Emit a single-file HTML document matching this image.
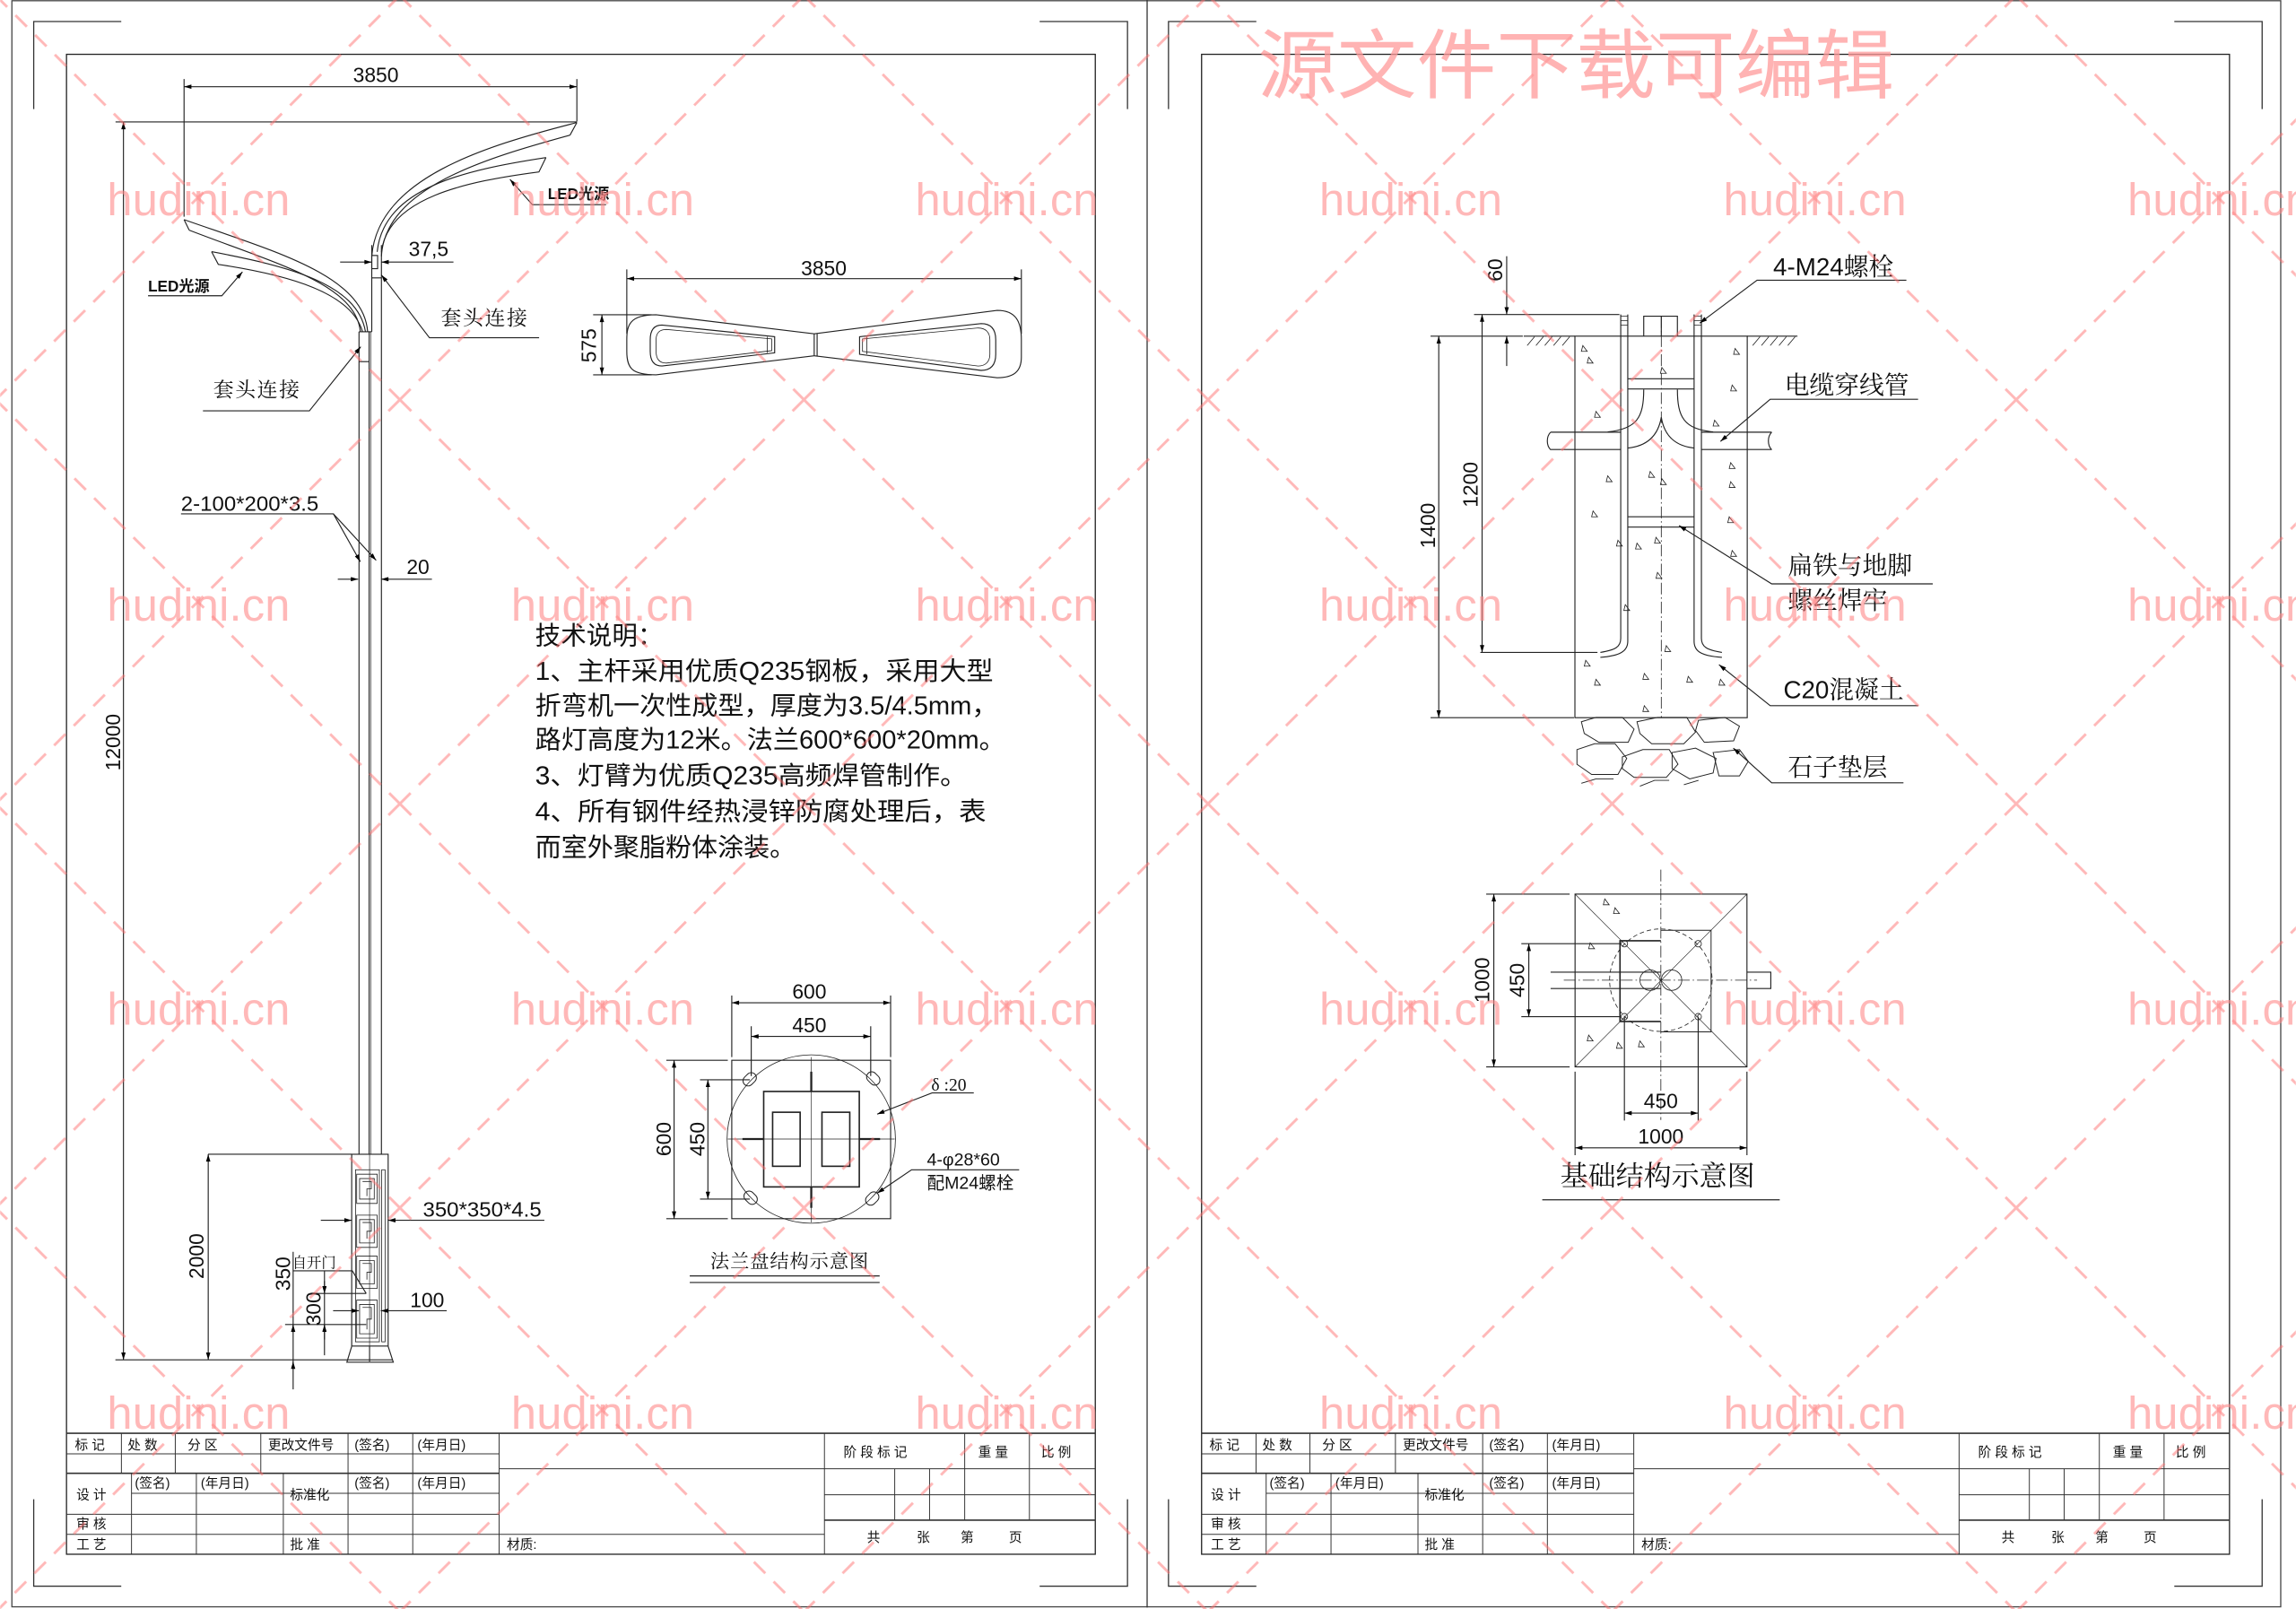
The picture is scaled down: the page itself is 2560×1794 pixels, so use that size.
<!DOCTYPE html>
<html><head><meta charset="utf-8"><style>
html,body{margin:0;padding:0;background:#fff;}
svg{display:block;}
text{font-family:"Liberation Sans","Noto Sans CJK SC",sans-serif;fill:#111;}
.s{font-family:"Liberation Serif","Noto Serif CJK SC","Noto Sans CJK SC",serif;}
</style></head><body>
<svg width="2560" height="1794" viewBox="0 0 1568 1099" xmlns="http://www.w3.org/2000/svg">
<defs>
<marker id="a" viewBox="0 0 10 6" refX="10" refY="3" markerWidth="7" markerHeight="3" orient="auto-start-reverse" markerUnits="userSpaceOnUse"><path d="M0,0L10,3L0,6z" fill="#000"/></marker>
<pattern id="wm" patternUnits="userSpaceOnUse" x="-3" y="-3" width="276" height="276">
<path d="M0,0L276,276M276,0L0,276" stroke="#ff7070" stroke-width="1.8" stroke-dasharray="11,8" fill="none"/>
</pattern>
</defs>
<rect width="1568" height="1099" fill="#fff"/>
<g fill="none" stroke="#333" stroke-width="0.8">
<rect x="8" y="0.5" width="1549.7" height="1097" stroke="#444"/>
<line x1="783.4" y1="0" x2="783.4" y2="1098"/>
<path d="M22.9,74.5V14.7H82.7M770,74.5V14.7H710M22.9,1024V1083.4H82.7M770,1024V1083.4H710"/>
<path d="M798,74.5V14.7H858M1545,74.5V14.7H1485M798,1024V1083.4H858M1545,1024V1083.4H1485"/>
<rect x="45.3" y="37.1" width="702.7" height="1024.5" stroke="#222"/>
<rect x="820.6" y="37.1" width="702.1" height="1024.5" stroke="#222"/>
</g>

<g id="tb" fill="none" stroke="#333" stroke-width="0.6">
<line x1="45.3" y1="979" x2="748" y2="979" stroke-width="1"/>
<line x1="45.3" y1="993" x2="340.8" y2="993"/>
<line x1="45.3" y1="1006.3" x2="340.8" y2="1006.3" stroke-width="1"/>
<line x1="89.7" y1="1020" x2="340.8" y2="1020"/>
<line x1="45.3" y1="1034.3" x2="340.8" y2="1034.3"/>
<line x1="45.3" y1="1048" x2="563" y2="1048"/>
<line x1="340.8" y1="1003.2" x2="563" y2="1003.2"/>
<line x1="563" y1="1003.2" x2="748" y2="1003.2"/>
<line x1="563" y1="1021" x2="748" y2="1021"/>
<line x1="563" y1="1038.3" x2="748" y2="1038.3" stroke-width="1"/>
<path d="M82.8,979V1006.3M119.6,979V1006.3M178,979V1006.3M237.6,979V1061.4M281.8,979V1061.4M340.8,979V1061.4M563,979V1061.4"/>
<path d="M89.7,1006.3V1061.4M134,1006.3V1061.4M193.4,1006.3V1061.4"/>
<path d="M658.8,979V1038.3M703,979V1038.3M611,1003.2V1038.3M634.8,1003.2V1038.3"/>
</g>
<g font-size="9" fill="#333" id="tbt">
<text x="51" y="990">标 记</text><text x="87" y="990">处 数</text><text x="128" y="990">分 区</text><text x="183" y="990">更改文件号</text>
<text x="242" y="990">(签名)</text><text x="285" y="990">(年月日)</text>
<text x="52" y="1024">设 计</text><text x="92" y="1016">(签名)</text><text x="137" y="1016">(年月日)</text>
<text x="198" y="1024">标准化</text><text x="242" y="1016">(签名)</text><text x="285" y="1016">(年月日)</text>
<text x="52" y="1044">审 核</text><text x="52" y="1058">工 艺</text><text x="198" y="1058">批 准</text>
<text x="346" y="1058">材质:</text>
<text x="576" y="995">阶 段 标 记</text><text x="668" y="995">重 量</text><text x="711" y="995">比 例</text>
<text x="592" y="1053">共</text><text x="626" y="1053">张</text><text x="656" y="1053">第</text><text x="689" y="1053">页</text>
</g>
<use href="#tb" x="775"/>
<use href="#tbt" x="775"/>

<g fill="none" stroke="#222" stroke-width="0.7">
<line x1="125.6" y1="59.2" x2="393.9" y2="59.2" marker-start="url(#a)" marker-end="url(#a)"/>
<line x1="125.6" y1="54" x2="125.6" y2="148"/>
<line x1="393.9" y1="54" x2="393.9" y2="83"/>
<line x1="78.8" y1="83.3" x2="393.9" y2="83.3"/>
<line x1="84.2" y1="83.3" x2="84.2" y2="928.8" marker-start="url(#a)" marker-end="url(#a)"/>
<line x1="78.7" y1="928.8" x2="268" y2="928.8"/>
<path d="M393.9,83.7C330,100 258,122 253.8,175"/>
<path d="M389.2,92.3C332,108 263,128 260.4,175"/>
<path d="M393.9,83.7L389.2,92.3"/>
<path d="M372.8,107.6L368,117.4C318,124 265,135 260.4,172"/>
<path d="M372.8,107.6C318,116 262,128 257.5,172"/>
<path d="M125.6,150C188,172 248,188 251,226.6"/>
<path d="M129.1,157.2C188,180 243,194 246,226.6"/>
<path d="M125.6,150L129.1,157.2"/>
<path d="M144.4,171.9L149,180.6C198,188 240,200 247.5,226.6"/>
<path d="M144.4,171.9C198,182 244,194 249.5,226.6"/>
<line x1="260.4" y1="167.4" x2="260.4" y2="788.4"/>
<line x1="253.8" y1="167.4" x2="253.8" y2="226.6"/>
<line x1="245.1" y1="226.6" x2="245.1" y2="788.4"/>
<line x1="252" y1="226.6" x2="252" y2="788.4"/>
<line x1="253.2" y1="226.6" x2="253.2" y2="788.4" stroke-width="0.4"/>
<rect x="253.8" y="174.5" width="4" height="9"/>
<line x1="253.8" y1="189.8" x2="260.4" y2="189.8"/>
<line x1="245.1" y1="226.6" x2="253.8" y2="226.6"/>
<line x1="245.1" y1="247" x2="252" y2="247"/>
<line x1="232.2" y1="179" x2="253.8" y2="179" marker-end="url(#a)"/>
<line x1="309.6" y1="179" x2="260.4" y2="179" marker-end="url(#a)"/>
<path d="M413.8,139.8H363.5L348.2,122.5" marker-end="url(#a)"/>
<path d="M101,202H151.4L165.5,185.7" marker-end="url(#a)"/>
<path d="M368.1,230.7H293.2L260.4,187.8" marker-end="url(#a)"/>
<path d="M138.5,280.6H211.2L246.3,236.8" marker-end="url(#a)"/>
<path d="M123.5,351H227.6L246,383.7" marker-end="url(#a)"/>
<path d="M227.6,351L256.8,382.7" marker-end="url(#a)"/>
<line x1="230.6" y1="395.6" x2="244.5" y2="395.6" marker-end="url(#a)"/>
<line x1="294.9" y1="395.6" x2="260.2" y2="395.6" marker-end="url(#a)"/>
<rect x="240.1" y="788.4" width="24.9" height="131"/>
<line x1="142" y1="788.4" x2="240.1" y2="788.4"/>
<line x1="252.3" y1="788.4" x2="252.3" y2="928.8" stroke-width="0.4"/>
<rect x="242.7" y="799" width="16.3" height="117.5" stroke-width="0.5"/>
<rect x="260.6" y="799" width="2.3" height="117.5" stroke-width="0.5"/>
<path d="M243.5,802h14v20h-14z M245.5,805h10v14h-10z M247.5,807h6v5h-3v5" stroke-width="0.5"/>
<path d="M243.5,830h14v22h-14z M245.5,833h10v16h-10z M247.5,835h6v6h-3v5" stroke-width="0.5"/>
<path d="M243.5,858h14v22h-14z M245.5,861h10v16h-10z M247.5,863h6v6h-3v5" stroke-width="0.5"/>
<path d="M243.5,888h14v26h-14z M245.5,891h10v20h-10z M247.5,893h6v8h-3v7" stroke-width="0.5"/>
<path d="M240.1,919.6L236.8,930.4H268.5L265,919.6"/>
<line x1="252.3" y1="919.6" x2="252.3" y2="930"/>
<line x1="142.1" y1="788.4" x2="142.1" y2="928.8" marker-start="url(#a)" marker-end="url(#a)"/>
<line x1="219" y1="833.5" x2="240.1" y2="833.5" marker-end="url(#a)"/>
<line x1="371.7" y1="833.5" x2="265" y2="833.5" marker-end="url(#a)"/>
<path d="M200.1,855V949M200.1,868H240.5L250,883.5" />
<line x1="200.1" y1="910" x2="200.1" y2="904.7" marker-end="url(#a)"/>
<line x1="200.1" y1="935" x2="200.1" y2="930" marker-end="url(#a)"/>
<line x1="221.5" y1="868" x2="221.5" y2="925.7"/>
<line x1="221.5" y1="875" x2="221.5" y2="883.5" marker-end="url(#a)"/>
<line x1="221.5" y1="915" x2="221.5" y2="904.7" marker-end="url(#a)"/>
<line x1="214" y1="883.5" x2="250" y2="883.5"/>
<line x1="194.6" y1="904.7" x2="250" y2="904.7"/>
<line x1="227.4" y1="895.3" x2="245" y2="895.3" marker-end="url(#a)"/>
<line x1="305" y1="895.3" x2="260" y2="895.3" marker-end="url(#a)"/>
</g>
<g font-size="14">
<text x="241" y="56">3850</text>
<text x="279" y="175">37,5</text>
<text x="123.5" y="349" textLength="94" lengthAdjust="spacingAndGlyphs">2-100*200*3.5</text>
<text x="277.6" y="392">20</text>
<text x="288.7" y="831" textLength="81" lengthAdjust="spacingAndGlyphs">350*350*4.5</text>
<text x="280" y="893">100</text>
<text transform="translate(82,507) rotate(-90)" text-anchor="middle">12000</text>
<text transform="translate(139,858) rotate(-90)" text-anchor="middle">2000</text>
<text transform="translate(198,870) rotate(-90)" text-anchor="middle">350</text>
<text transform="translate(219,894) rotate(-90)" text-anchor="middle">300</text>
</g>
<g font-size="10.5" font-weight="bold"><text x="374" y="136">LED光源</text><text x="101" y="199">LED光源</text></g>
<g font-size="14" class="s">
<text class="s" x="301" y="222" textLength="59">套头连接</text>
<text class="s" x="145.5" y="271" textLength="59">套头连接</text>
</g>
<text x="199.4" y="866" font-size="10" class="s">自开门</text>

<g fill="none" stroke="#222" stroke-width="0.7">
<line x1="428" y1="190.3" x2="697.5" y2="190.3" marker-start="url(#a)" marker-end="url(#a)"/>
<line x1="428" y1="184" x2="428" y2="228"/>
<line x1="697.5" y1="184" x2="697.5" y2="228"/>
<line x1="405" y1="215" x2="445" y2="215"/><line x1="405" y1="256" x2="445" y2="256"/>
<line x1="411" y1="215" x2="411" y2="256" marker-start="url(#a)" marker-end="url(#a)"/>
<path d="M556,228L448,215C430,215 428,222 428,232V240C428,252 432,256 448,256L556,243"/>
<path d="M556,228L681,212C694,212 697.5,220 697.5,232V244C697.5,254 692,258 681,258L556,243"/>
<line x1="556" y1="228" x2="556" y2="243"/>
<line x1="558" y1="228" x2="558" y2="243"/>
<path d="M452,222L529,230V241L452,250C446,250 444,246 444,240V232C444,226 446,222 452,222z"/>
<path d="M455,225L527,231.5V239.5L455,248C450,248 448,245 448,240V232C448,228 450,225 455,225z" stroke-width="0.5"/>
<line x1="524" y1="230" x2="524" y2="241" stroke-width="0.5"/>
<path d="M587,230L670,221C677,221 680,225 680,232V242C680,249 677,253 670,253L587,242z"/>
<path d="M589,231.5L668,224C673,224 676,227 676,232V242C676,247 673,250 668,250L589,240z" stroke-width="0.5"/>
<line x1="592" y1="230" x2="592" y2="242" stroke-width="0.5"/>
</g>
<text x="547" y="188" font-size="14">3850</text>
<text transform="translate(407,236) rotate(-90)" text-anchor="middle" font-size="14">575</text>

<g font-size="17.5">
<text x="365.4" y="440">技术说明：</text>
<text x="365.4" y="464.4" textLength="313" lengthAdjust="spacingAndGlyphs">1、主杆采用优质Q235钢板，采用大型</text>
<text x="365.4" y="487.8" textLength="316" lengthAdjust="spacingAndGlyphs">折弯机一次性成型，厚度为3.5/4.5mm，</text>
<text x="365.4" y="511.3" textLength="321" lengthAdjust="spacingAndGlyphs">路灯高度为12米。法兰600*600*20mm。</text>
<text x="365.4" y="535.8" textLength="295" lengthAdjust="spacingAndGlyphs">3、灯臂为优质Q235高频焊管制作。</text>
<text x="365.4" y="560.3" textLength="308" lengthAdjust="spacingAndGlyphs">4、所有钢件经热浸锌防腐处理后，表</text>
<text x="365.4" y="584.8" textLength="178" lengthAdjust="spacingAndGlyphs">而室外聚脂粉体涂装。</text>
</g>

<g fill="none" stroke="#222" stroke-width="0.7">
<rect x="499.7" y="724.2" width="108.5" height="108.2"/>
<circle cx="554" cy="778" r="57.5" stroke-width="0.5"/>
<rect x="521.5" y="745.5" width="65.3" height="65.2" stroke-width="1"/>
<rect x="527.6" y="759.7" width="18.8" height="36.9" stroke-width="1"/>
<rect x="561.3" y="759.7" width="19" height="36.9" stroke-width="1"/>
<line x1="554" y1="722" x2="554" y2="835" stroke-width="0.4"/>
<line x1="497" y1="778" x2="611" y2="778" stroke-width="0.4"/>
<path d="M554,732V745.5M554,810.7V825M507,778H521.5M586.8,778H601" stroke-width="1.4"/>
<g stroke-width="0.6">
<rect x="507" y="733" width="10" height="7" rx="3.5" transform="rotate(-45 512.8 736.9)"/>
<rect x="591" y="733" width="10" height="7" rx="3.5" transform="rotate(45 596 737)"/>
<rect x="507" y="815" width="10" height="7" rx="3.5" transform="rotate(45 512.8 819)"/>
<rect x="591" y="815" width="10" height="7" rx="3.5" transform="rotate(-45 596 819)"/>
</g>
<line x1="499.7" y1="684.9" x2="608.2" y2="684.9" marker-start="url(#a)" marker-end="url(#a)"/>
<path d="M499.7,680V722M608.2,680V722M513,701V735M594.6,701V735"/>
<line x1="513" y1="707.9" x2="594.6" y2="707.9" marker-start="url(#a)" marker-end="url(#a)"/>
<path d="M455,724.2H497M455,832.4H497M478,737.5H512M478,819H512"/>
<line x1="460.3" y1="724.2" x2="460.3" y2="832.4" marker-start="url(#a)" marker-end="url(#a)"/>
<line x1="483.4" y1="737.5" x2="483.4" y2="819" marker-start="url(#a)" marker-end="url(#a)"/>
<path d="M665,746.5H636.5L599,761" marker-end="url(#a)"/>
<path d="M696,799H622.5L599,815" marker-end="url(#a)"/>
<path d="M471,871.5H600.7M471,876H600.7"/>
</g>
<g font-size="14">
<text x="541" y="682">600</text><text x="541" y="705">450</text>
<text transform="translate(458,778) rotate(-90)" text-anchor="middle">600</text>
<text transform="translate(481,778) rotate(-90)" text-anchor="middle">450</text>
</g>
<text x="636" y="745" font-size="12" class="s">δ :20</text>
<text x="633" y="796" font-size="12">4-φ28*60</text>
<text x="633" y="812" font-size="12">配M24螺栓</text>
<text x="485" y="866" font-size="13" class="s" textLength="108">法兰盘结构示意图</text>

<g fill="none" stroke="#222" stroke-width="0.7">
<rect x="1075.6" y="229.6" width="117.7" height="260.6"/>
<line x1="1040.6" y1="229.6" x2="1075.6" y2="229.6"/><line x1="1193.3" y1="229.6" x2="1227.6" y2="229.6"/>
<path stroke-width="0.5" d="M1043,236l5,-6M1049,236l5,-6M1055,236l5,-6M1061,236l5,-6M1067,236l5,-6M1197,236l5,-6M1203,236l5,-6M1209,236l5,-6M1215,236l5,-6M1221,236l5,-6"/>
<path d="M1122.6,229.6V216H1134.6V229.6M1134.6,216H1145.6V229.6"/>
<line x1="1134.6" y1="216" x2="1134.6" y2="490" stroke-dasharray="8,2,1,2" stroke-width="0.5"/>
<path d="M1106.9,214.8V436C1106.9,442 1103,444 1093,445.6M1111.7,214.8V438C1111.7,445 1106,448 1093,449"/>
<path d="M1157,214.8V438C1157,445 1162,448 1176,449M1162,214.8V436C1162,442 1166,444 1176,445.6"/>
<path d="M1106.9,216h4.8M1106.9,219h4.8M1106.9,222h4.8M1157,216h5M1157,219h5M1157,222h5" stroke-width="0.5"/>
<path d="M1111.7,258.7H1157M1111.7,265.7H1157M1111.7,353H1157M1111.7,360H1157"/>
<path d="M1059,295.2H1106.9M1162,295.2H1210M1059,307H1106.9M1162,307H1210"/>
<path d="M1059,295.2c-3,3 -3,9 0,12M1210,295.2c-3,3 -3,9 0,12"/>
<path d="M1122.6,266C1122.6,285 1118,293 1098,295M1145.6,266C1145.6,285 1150,293 1170,295"/>
<path d="M1134.6,285C1132,300 1122,305 1111.7,306M1134.6,285C1137,300 1147,305 1157,306"/>
<path d="M1006.7,214.8H1106M977,229.6H1040M1011,445.6H1091M977,490.2H1075"/>
<line x1="982.6" y1="229.6" x2="982.6" y2="490.2" marker-start="url(#a)" marker-end="url(#a)"/>
<line x1="1012.2" y1="214.8" x2="1012.2" y2="445.6" marker-start="url(#a)" marker-end="url(#a)"/>
<line x1="1029" y1="175" x2="1029" y2="214.8" marker-end="url(#a)"/>
<line x1="1029" y1="250" x2="1029" y2="229.6" marker-end="url(#a)"/>
<g stroke-width="0.6">
<path d="M1080,493l10,-3h18l8,8l-4,9h-20l-10,-6z"/>
<path d="M1118,493l14,-3h20l6,10l-8,8h-22l-8,-7z"/>
<path d="M1160,492l18,-2l10,6l-4,10l-20,1l-6,-8z"/>
<path d="M1077,512l12,-4h14l8,10l-6,11h-18l-10,-7z"/>
<path d="M1108,517l14,-5h18l6,10l-8,9h-22l-8,-6z"/>
<path d="M1142,514l16,-3l14,7l-2,10l-16,4l-12,-7z"/>
<path d="M1170,514l18,-2l6,8l-6,10h-14z"/>
<path d="M1080,535l10,-3h12M1120,537l10,-4h10M1150,536l10,-3"/>
</g>
<path stroke-width="0.5" d="M1081,236l3,4h-4zM1085,244l3,4h-4zM1135,251l3,4h-4zM1185,238l3,4h-4zM1183,263l3,4h-4zM1090,281l3,4h-4zM1171,287l3,4h-4zM1182,316l3,4h-4zM1098,325l3,4h-4zM1127,322l3,4h-4zM1135,327l3,4h-4zM1182,329l3,4h-4zM1088,349l3,4h-4zM1181,353l3,4h-4zM1105,369l3,4h-4zM1118,371l3,4h-4zM1131,367l3,4h-4zM1183,376l3,4h-4zM1132,391l3,4h-4zM1110,413l3,4h-4zM1138,441l3,4h-4zM1083,451l3,4h-4zM1090,464l3,4h-4zM1123,460l3,4h-4zM1153,462l3,4h-4zM1175,464l3,4h-4zM1123,482l3,4h-4z"/>
<path d="M1302,191.4H1200L1160.9,220.7" marker-end="url(#a)"/>
<path d="M1310,272.7H1209L1175,301.5" marker-end="url(#a)"/>
<path d="M1320,398.8H1210L1146.7,359" marker-end="url(#a)"/>
<path d="M1310,482H1209L1174,454" marker-end="url(#a)"/>
<path d="M1300,534.7H1210L1183.8,511" marker-end="url(#a)"/>
</g>
<g font-size="14">
<text transform="translate(1026,184.4) rotate(-90)" text-anchor="middle">60</text>
<text transform="translate(1009,331) rotate(-90)" text-anchor="middle">1200</text>
<text transform="translate(980,359) rotate(-90)" text-anchor="middle">1400</text>
</g>
<text x="1211" y="188" font-size="17">4-M24<tspan class="s">螺栓</tspan></text>
<g font-size="17" class="s">
<text class="s" x="1218.8" y="269">电缆穿线管</text>
<text class="s" x="1221" y="392">扁铁与地脚</text>
<text class="s" x="1221" y="416">螺丝焊牢</text>
<text class="s" x="1221" y="530">石子垫层</text>
</g>
<text x="1218" y="477" font-size="17">C20<tspan class="s">混凝土</tspan></text>

<g fill="none" stroke="#222" stroke-width="0.7">
<rect x="1075.7" y="610.7" width="117.4" height="118"/>
<path d="M1075.7,610.7L1193.1,728.7M1193.1,610.7L1075.7,728.7" stroke-width="0.4"/>
<circle cx="1134.3" cy="669.5" r="35" stroke-dasharray="3,2" stroke-width="0.5"/>
<path d="M1134.3,642.6H1106.4V697.7H1134.3" stroke-width="1"/>
<path d="M1134.3,635.4H1168.6V704.8H1134.3" stroke-width="0.6"/>
<path d="M1059,664H1134.3M1059,675.2H1134.3M1193,664H1209.4V675.2H1193"/>
<line x1="1134.3" y1="594" x2="1134.3" y2="765" stroke-dasharray="8,2,1,2" stroke-width="0.5"/>
<line x1="1068" y1="669.5" x2="1200" y2="669.5" stroke-dasharray="8,2,1,2" stroke-width="0.5"/>
<circle cx="1127" cy="669.5" r="7" stroke-width="0.5"/><circle cx="1141.6" cy="669.5" r="7" stroke-width="0.5"/>
<g stroke-width="0.5"><circle cx="1109.4" cy="644.6" r="2.2"/><circle cx="1159.8" cy="644.6" r="2.2"/><circle cx="1109.4" cy="694.4" r="2.2"/><circle cx="1159.8" cy="694.4" r="2.2"/></g>
<path d="M1015,610.7H1072M1015,728.7H1072M1039,644.6H1106M1039,694.4H1106"/>
<line x1="1020.2" y1="610.7" x2="1020.2" y2="728.7" marker-start="url(#a)" marker-end="url(#a)"/>
<line x1="1044.1" y1="644.6" x2="1044.1" y2="694.4" marker-start="url(#a)" marker-end="url(#a)"/>
<path d="M1109.4,694.4V765.4M1159.8,694.4V765.4M1075.7,732V789M1193.1,732V789"/>
<line x1="1109.4" y1="760.3" x2="1159.8" y2="760.3" marker-start="url(#a)" marker-end="url(#a)"/>
<line x1="1075.7" y1="784" x2="1193.1" y2="784" marker-start="url(#a)" marker-end="url(#a)"/>
<line x1="1053.3" y1="819.5" x2="1215.5" y2="819.5"/>
<path stroke-width="0.5" d="M1096,614l3,4h-4zM1103,620l3,4h-4zM1085,707l3,4h-4zM1105,712l3,4h-4zM1120,711l3,4h-4zM1086,644l3,4h-4z"/>
</g>
<g font-size="14">
<text transform="translate(1017,669.5) rotate(-90)" text-anchor="middle">1000</text>
<text transform="translate(1041,669.5) rotate(-90)" text-anchor="middle">450</text>
<text x="1134.3" y="757" text-anchor="middle">450</text>
<text x="1134.3" y="781" text-anchor="middle">1000</text>
</g>
<text x="1132" y="810" font-size="19" class="s" text-anchor="middle">基础结构示意图</text>

<rect x="0" y="0" width="1568" height="1099" fill="url(#wm)" opacity="0.5"/>
<g font-size="31" opacity="0.6" style="font-family:'Liberation Sans',sans-serif">
<text x="73" y="147" textLength="125" style="fill:#ff8a8a">hudini.cn</text><text x="349" y="147" textLength="125" style="fill:#ff8a8a">hudini.cn</text><text x="625" y="147" textLength="125" style="fill:#ff8a8a">hudini.cn</text><text x="901" y="147" textLength="125" style="fill:#ff8a8a">hudini.cn</text><text x="1177" y="147" textLength="125" style="fill:#ff8a8a">hudini.cn</text><text x="1453" y="147" textLength="125" style="fill:#ff8a8a">hudini.cn</text>
<text x="73" y="424" textLength="125" style="fill:#ff8a8a">hudini.cn</text><text x="349" y="424" textLength="125" style="fill:#ff8a8a">hudini.cn</text><text x="625" y="424" textLength="125" style="fill:#ff8a8a">hudini.cn</text><text x="901" y="424" textLength="125" style="fill:#ff8a8a">hudini.cn</text><text x="1177" y="424" textLength="125" style="fill:#ff8a8a">hudini.cn</text><text x="1453" y="424" textLength="125" style="fill:#ff8a8a">hudini.cn</text>
<text x="73" y="700" textLength="125" style="fill:#ff8a8a">hudini.cn</text><text x="349" y="700" textLength="125" style="fill:#ff8a8a">hudini.cn</text><text x="625" y="700" textLength="125" style="fill:#ff8a8a">hudini.cn</text><text x="901" y="700" textLength="125" style="fill:#ff8a8a">hudini.cn</text><text x="1177" y="700" textLength="125" style="fill:#ff8a8a">hudini.cn</text><text x="1453" y="700" textLength="125" style="fill:#ff8a8a">hudini.cn</text>
<text x="73" y="976" textLength="125" style="fill:#ff8a8a">hudini.cn</text><text x="349" y="976" textLength="125" style="fill:#ff8a8a">hudini.cn</text><text x="625" y="976" textLength="125" style="fill:#ff8a8a">hudini.cn</text><text x="901" y="976" textLength="125" style="fill:#ff8a8a">hudini.cn</text><text x="1177" y="976" textLength="125" style="fill:#ff8a8a">hudini.cn</text><text x="1453" y="976" textLength="125" style="fill:#ff8a8a">hudini.cn</text>
</g>
<text x="858.8" y="63" font-size="52" textLength="435" lengthAdjust="spacingAndGlyphs" style="fill:#ff9a9a;opacity:0.75">源文件下载可编辑</text>
</svg>
</body></html>
